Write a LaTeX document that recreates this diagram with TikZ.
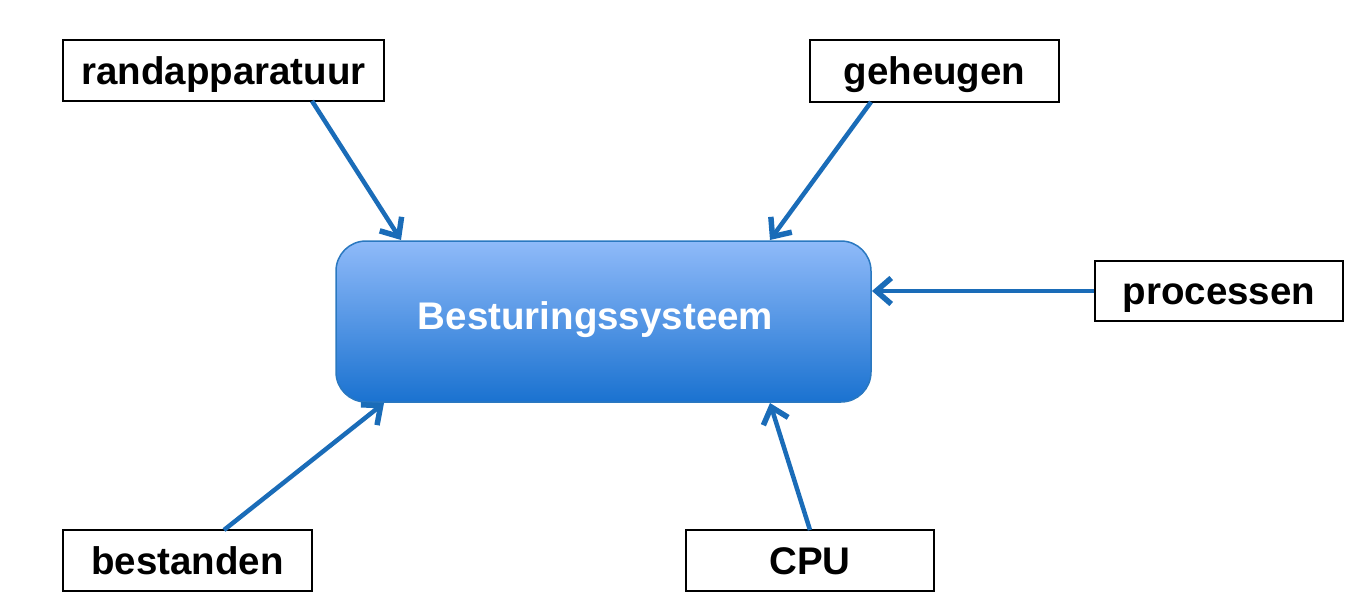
\documentclass[tikz,border=0pt]{standalone}
\usepackage{fontspec}
\setmainfont{Liberation Sans}
\usetikzlibrary{arrows.meta}
\definecolor{arrblue}{HTML}{1A6CB8}
\definecolor{topblue}{HTML}{8FBAF9}
\definecolor{botblue}{HTML}{1A72D0}
\definecolor{edgeblue}{HTML}{2A78C0}
\begin{document}
\begin{tikzpicture}[x=1pt,y=-1pt,
  lbl/.style={draw=black,line width=1.5pt,fill=white,inner sep=0pt,text height=27pt,text depth=0pt,
    font=\fontsize{38.5}{40}\selectfont\bfseries},
  conn/.style={draw=arrblue,line width=4.5pt,-{Straight Barb[length=15pt,width=26pt,line width=5.5pt]}}]
\useasboundingbox (0,0) rectangle (1360,606);
\node[lbl,minimum width=321pt,minimum height=61pt] (rand) at (223.5,70.5) {randapparatuur};
\node[lbl,minimum width=249pt,minimum height=62pt] (geh) at (934.5,71) {geheugen};
\node[lbl,minimum width=248pt,minimum height=60pt] (proc) at (1219,291) {processen};
\node[lbl,minimum width=249pt,minimum height=61pt] (best) at (187.5,560.5) {bestanden};
\node[lbl,minimum width=248pt,minimum height=61pt] (cpu) at (810,560.5) {CPU};
\node[draw=edgeblue,line width=1.5pt,rounded corners=30pt,top color=topblue,bottom color=botblue,
  minimum width=535pt,minimum height=161pt,inner sep=0pt,text=white,text height=15pt,text depth=0pt,
  font=\fontsize{38.5}{40}\selectfont\bfseries] (os) at (603.5,321.5) {Besturingssysteem\kern16pt};
\coordinate (a1) at (401,240);
\coordinate (a2) at (770,240);
\coordinate (a3) at (872,291);
\coordinate (a4) at (384,403);
\coordinate (a5) at (770,403);
\draw[conn] (312,101) -- (a1);
\draw[conn] (871,102) -- (a2);
\draw[conn] (proc.west) -- (a3);
\draw[conn] (224,530) -- (a4);
\draw[conn] (810,530) -- (a5);
\end{tikzpicture}
\end{document}
